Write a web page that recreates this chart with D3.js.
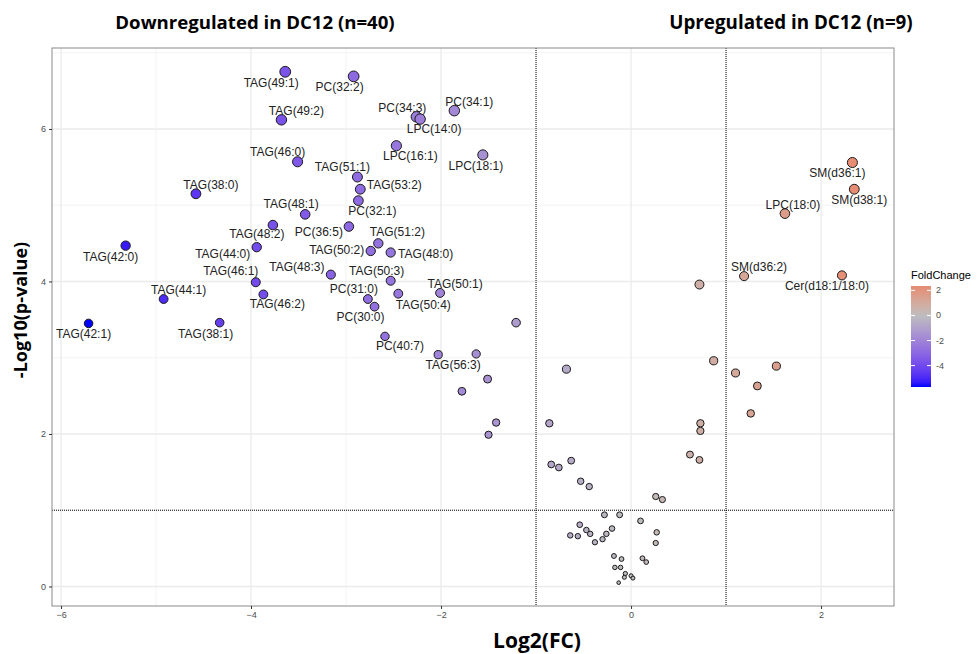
<!DOCTYPE html>
<html>
<head>
<meta charset="utf-8">
<script src="https://cdn.jsdelivr.net/npm/d3@7"></script>
<style>
  body { margin: 0; background: #fff; }
  svg { display: block; }
</style>
</head>
<body>
<div id="volcano"></div>
<script>
// lipid names ('' = not labelled), log2 fold change, -log10(p)
const names = [
  'TAG(49:1)', 'PC(32:2)', 'TAG(49:2)', 'PC(34:3)', 'LPC(14:0)', 'PC(34:1)',
  'TAG(46:0)', 'LPC(16:1)', 'LPC(18:1)', 'TAG(38:0)', 'TAG(51:1)', 'TAG(53:2)',
  'PC(32:1)', 'TAG(48:1)', 'TAG(48:2)', 'PC(36:5)', 'TAG(51:2)', 'TAG(50:2)',
  'TAG(48:0)', 'TAG(42:0)', 'TAG(44:0)', 'TAG(48:3)', 'TAG(50:3)', 'TAG(46:1)',
  'TAG(50:1)', 'TAG(50:4)', 'TAG(46:2)', 'PC(31:0)', 'TAG(44:1)', 'PC(30:0)',
  'TAG(42:1)', 'TAG(38:1)', 'PC(40:7)', 'TAG(56:3)',
  '', '', '', '', '', '',
  'SM(d36:1)', 'SM(d38:1)', 'LPC(18:0)', 'SM(d36:2)', 'Cer(d18:1/18:0)',
  '', '', '', '',
  '', '', '', '', '', '', '', '', '', '', '', '', '', '', '',
  '', '', '', '', '', '', '', '', '', '', '', '', '', '', '',
  '', '', '', '', '', '', '', '', '', ''
];
const log2FC = [
  -3.64, -2.92, -3.68, -2.26, -2.22, -1.86,
  -3.51, -2.47, -1.56, -4.58, -2.88, -2.85,
  -2.87, -3.43, -3.77, -2.97, -2.66, -2.74,
  -2.53, -5.32, -3.94, -3.16, -2.53, -3.95,
  -2.01, -2.45, -3.87, -2.77, -4.92, -2.70,
  -5.71, -4.33, -2.59, -2.03,
  -1.21, -1.63, -1.51, -1.78, -1.42, -1.50,
  2.33, 2.35, 1.62, 1.19, 2.22,
  1.53, 1.10, 1.33, 1.26,
  0.72, 0.87, -0.68, -0.86, 0.73, 0.73, -0.84, -0.76, -0.63, -0.53, -0.44, 0.62, 0.72, 0.26, 0.33,
  -0.28, -0.12, 0.10, -0.54, -0.47, -0.43, -0.64, -0.56, -0.38, -0.30, -0.26, -0.20, 0.27, 0.26, -0.18,
  -0.10, 0.12, 0.16, -0.17, -0.11, -0.06, -0.07, 0.00, 0.02, -0.13
];
const negLog10P = [
  6.75, 6.69, 6.12, 6.16, 6.13, 6.24,
  5.57, 5.78, 5.66, 5.15, 5.37, 5.21,
  5.06, 4.88, 4.74, 4.72, 4.50, 4.40,
  4.38, 4.47, 4.45, 4.09, 4.01, 3.99,
  3.85, 3.84, 3.83, 3.77, 3.77, 3.67,
  3.45, 3.46, 3.28, 3.04,
  3.46, 3.05, 2.72, 2.56, 2.15, 1.99,
  5.56, 5.21, 4.89, 4.07, 4.08,
  2.89, 2.80, 2.63, 2.27,
  3.96, 2.96, 2.85, 2.14, 2.14, 2.04, 1.60, 1.56, 1.65, 1.38, 1.31, 1.73, 1.66, 1.18, 1.14,
  0.94, 0.94, 0.86, 0.81, 0.74, 0.69, 0.67, 0.66, 0.58, 0.62, 0.69, 0.76, 0.71, 0.57, 0.40,
  0.36, 0.37, 0.32, 0.25, 0.25, 0.17, 0.12, 0.14, 0.11, 0.05
];

const xTicks = [-6, -4, -2, 0, 2];
const yTicks = [0, 2, 4, 6];
const legendTicks = [2, 0, -2, -4];
const fcCutoff = 1;
const pCutoff = 1;

const titleDown = 'Downregulated in DC12 (n=40)';
const titleUp = 'Upregulated in DC12 (n=9)';

// where ggrepel put each label, relative to its point (px)
const labelNudge = {
  'TAG(49:1)': [-14, 11], 'PC(32:2)': [-14, 11], 'TAG(49:2)': [15, -9],
  'PC(34:3)': [-14, -9], 'LPC(14:0)': [14, 10], 'PC(34:1)': [15, -9],
  'TAG(46:0)': [-20, -10], 'LPC(16:1)': [14, 10], 'LPC(18:1)': [-7, 11],
  'TAG(38:0)': [15, -9], 'TAG(51:1)': [-15, -10], 'TAG(53:2)': [34, -4],
  'PC(32:1)': [14, 10], 'TAG(48:1)': [-14, -10], 'TAG(48:2)': [-16, 9],
  'PC(36:5)': [-30, 5], 'TAG(51:2)': [19, -11], 'TAG(50:2)': [-34, -1],
  'TAG(48:0)': [35, 1], 'TAG(42:0)': [-15, 11], 'TAG(44:0)': [-34, 7],
  'TAG(48:3)': [-34, -8], 'TAG(50:3)': [-14, -10], 'TAG(46:1)': [-25, -11],
  'TAG(50:1)': [15, -9], 'TAG(50:4)': [25, 11], 'TAG(46:2)': [14, 10],
  'PC(31:0)': [-14, -10], 'TAG(44:1)': [15, -9], 'PC(30:0)': [-14, 10],
  'TAG(42:1)': [-5, 11], 'TAG(38:1)': [-14, 11], 'PC(40:7)': [15, 10],
  'TAG(56:3)': [15, 10],
  'SM(d36:1)': [-15, 10], 'SM(d38:1)': [5, 11], 'LPC(18:0)': [8, -9],
  'SM(d36:2)': [15, -9], 'Cer(d18:1/18:0)': [-15, 11]
};

const width = 979;
const height = 654;
const panel = { left: 52, right: 894, top: 48, bottom: 606 };

const points = names.map((name, i) => ({ name, fc: log2FC[i], p: negLog10P[i] }));

const svg = d3.select('#volcano')
  .append('svg')
  .attr('width', width)
  .attr('height', height)
  .style('font-family', '"Liberation Sans", Arial, sans-serif');

const x = d3.scaleLinear().domain([-6.095, 2.768]).range([panel.left, panel.right]);
const y = d3.scaleLinear().domain([-0.256, 7.062]).range([panel.bottom, panel.top]);
const r = d3.scaleSqrt().domain([0, 6.75]).range([1.5, 5.4]);

const maxAbs = d3.max(log2FC, (d) => Math.abs(d));
const colour = d3.scaleLinear()
  .domain([-maxAbs, 0, maxAbs])
  .range(['#0000ff', '#bebebe', '#ff0000'])
  .interpolate(d3.interpolateLab);

// grid
const grid = svg.append('g');
const xMinor = d3.range(-5, 3, 2);
const yMinor = d3.range(1, 8, 2);
grid.selectAll('.xminor').data(xMinor).join('line')
  .attr('x1', (d) => x(d)).attr('x2', (d) => x(d))
  .attr('y1', panel.top).attr('y2', panel.bottom)
  .attr('stroke', '#f0f0f0').attr('stroke-width', 0.8);
grid.selectAll('.yminor').data(yMinor).join('line')
  .attr('x1', panel.left).attr('x2', panel.right)
  .attr('y1', (d) => y(d)).attr('y2', (d) => y(d))
  .attr('stroke', '#f0f0f0').attr('stroke-width', 0.8);
grid.selectAll('.xmajor').data(xTicks).join('line')
  .attr('x1', (d) => x(d)).attr('x2', (d) => x(d))
  .attr('y1', panel.top).attr('y2', panel.bottom)
  .attr('stroke', '#ebebeb').attr('stroke-width', 1.3);
grid.selectAll('.ymajor').data(yTicks).join('line')
  .attr('x1', panel.left).attr('x2', panel.right)
  .attr('y1', (d) => y(d)).attr('y2', (d) => y(d))
  .attr('stroke', '#ebebeb').attr('stroke-width', 1.3);

// cut-off lines
const cuts = svg.append('g')
  .attr('stroke', '#000')
  .attr('stroke-width', 1)
  .attr('stroke-dasharray', '1,1');
[-fcCutoff, fcCutoff].forEach((v) => {
  cuts.append('line')
    .attr('x1', x(v)).attr('x2', x(v))
    .attr('y1', panel.top).attr('y2', panel.bottom);
});
cuts.append('line')
  .attr('x1', panel.left).attr('x2', panel.right)
  .attr('y1', y(pCutoff)).attr('y2', y(pCutoff));

// points
svg.append('g')
  .selectAll('circle')
  .data(points)
  .join('circle')
  .attr('cx', (d) => x(d.fc))
  .attr('cy', (d) => y(d.p))
  .attr('r', (d) => r(d.p))
  .attr('fill', (d) => colour(d.fc))
  .attr('stroke', '#1a1a1a')
  .attr('stroke-width', 1);

// labels
svg.append('g')
  .selectAll('text')
  .data(points.filter((d) => d.name))
  .join('text')
  .attr('x', (d) => x(d.fc) + labelNudge[d.name][0])
  .attr('y', (d) => y(d.p) + labelNudge[d.name][1])
  .attr('text-anchor', 'middle')
  .attr('dominant-baseline', 'central')
  .style('font-size', '12px')
  .style('fill', '#222')
  .text((d) => d.name);

// panel border
svg.append('rect')
  .attr('x', panel.left).attr('y', panel.top)
  .attr('width', panel.right - panel.left)
  .attr('height', panel.bottom - panel.top)
  .attr('fill', 'none')
  .attr('stroke', '#8a8a8a')
  .attr('stroke-width', 1);

// axes
const xAxis = svg.append('g')
  .attr('transform', `translate(0,${panel.bottom})`)
  .call(d3.axisBottom(x).tickValues(xTicks).tickSize(3).tickPadding(3));
const yAxis = svg.append('g')
  .attr('transform', `translate(${panel.left},0)`)
  .call(d3.axisLeft(y).tickValues(yTicks).tickSize(3).tickPadding(3));
[xAxis, yAxis].forEach((ax) => {
  ax.select('.domain').remove();
  ax.selectAll('.tick line').attr('stroke', '#333');
  ax.selectAll('.tick text')
    .style('font-size', '9px')
    .style('fill', '#4d4d4d')
    .style('font-family', '"Liberation Sans", Arial, sans-serif');
});

// titles
const bold = '"Open Sans", "DejaVu Sans", sans-serif';
svg.append('text')
  .attr('x', 255).attr('y', 29)
  .attr('text-anchor', 'middle')
  .style('font-family', bold).style('font-weight', 700).style('font-size', '18.6px')
  .text(titleDown);
svg.append('text')
  .attr('x', 791).attr('y', 29)
  .attr('text-anchor', 'middle')
  .style('font-family', bold).style('font-weight', 700).style('font-size', '18.8px')
  .text(titleUp);
svg.append('text')
  .attr('x', 537).attr('y', 648)
  .attr('text-anchor', 'middle')
  .style('font-family', bold).style('font-weight', 700).style('font-size', '21px')
  .text('Log2(FC)');
svg.append('text')
  .attr('transform', 'translate(27,310) rotate(-90)')
  .attr('text-anchor', 'middle')
  .style('font-family', bold).style('font-weight', 700).style('font-size', '18px')
  .text('-Log10(p-value)');

// colour bar legend
const legend = { x: 911, w: 20, top: 286, bottom: 387 };
const lg = d3.scaleLinear().domain([d3.max(log2FC), d3.min(log2FC)]).range([legend.top, legend.bottom]);
const defs = svg.append('defs');
const grad = defs.append('linearGradient')
  .attr('id', 'fcgrad')
  .attr('x1', 0).attr('y1', 0).attr('x2', 0).attr('y2', 1);
d3.range(0, 1.0001, 0.05).forEach((t) => {
  grad.append('stop')
    .attr('offset', t)
    .attr('stop-color', colour(lg.invert(legend.top + t * (legend.bottom - legend.top))));
});
svg.append('text')
  .attr('x', legend.x).attr('y', 279)
  .style('font-size', '11px')
  .style('fill', '#000')
  .text('FoldChange');
svg.append('rect')
  .attr('x', legend.x).attr('y', legend.top)
  .attr('width', legend.w).attr('height', legend.bottom - legend.top)
  .attr('fill', 'url(#fcgrad)');
const lt = svg.append('g');
legendTicks.forEach((v) => {
  lt.append('line')
    .attr('x1', legend.x).attr('x2', legend.x + 4)
    .attr('y1', lg(v)).attr('y2', lg(v))
    .attr('stroke', '#fff').attr('stroke-width', 1);
  lt.append('line')
    .attr('x1', legend.x + legend.w - 4).attr('x2', legend.x + legend.w)
    .attr('y1', lg(v)).attr('y2', lg(v))
    .attr('stroke', '#fff').attr('stroke-width', 1);
  lt.append('text')
    .attr('x', legend.x + legend.w + 5)
    .attr('y', lg(v))
    .attr('dominant-baseline', 'central')
    .style('font-size', '9px')
    .style('fill', '#4d4d4d')
    .text(v);
});
</script>
</body>
</html>
